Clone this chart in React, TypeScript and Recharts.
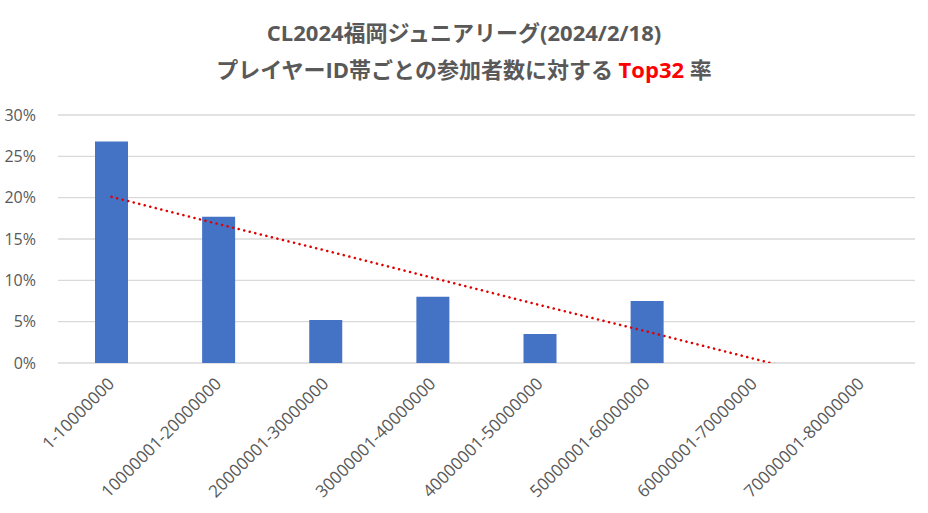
import React from "react";
import { ComposedChart, Bar, Line, XAxis, YAxis, CartesianGrid } from "recharts";

const categories = [
  "1-10000000",
  "10000001-20000000",
  "20000001-30000000",
  "30000001-40000000",
  "40000001-50000000",
  "50000001-60000000",
  "60000001-70000000",
  "70000001-80000000",
];
const top32Rate = [0.268, 0.177, 0.052, 0.08, 0.035, 0.075, 0, 0];
const trendRate = [0.201, 0.168, 0.136, 0.103, 0.07, 0.038, 0.005, -0.028];
const yTicks = [0, 0.05, 0.1, 0.15, 0.2, 0.25, 0.3];

const data = categories.map((c, i) => ({ name: c, rate: top32Rate[i], trend: trendRate[i] }));

const FONT = "'Open Sans', 'Noto Sans CJK JP', sans-serif";
const GREY = "#595959";

const XTick = (props: any) => {
  const { x, y, payload } = props;
  return (
    <g transform={`translate(${x - 4},${y + 6})`}>
      <text
        textAnchor="end"
        transform="rotate(-45)"
        fontSize={17}
        fill={GREY}
        fontFamily={FONT}
        dy={11}
      >
        {payload.value}
      </text>
    </g>
  );
};

export default function App() {
  return (
    <div style={{ position: "absolute", left: 0, top: 0, width: 928, height: 513, background: "#fff", fontFamily: FONT }}>
      <div
        style={{
          position: "absolute",
          left: 0,
          top: 14,
          width: 928,
          textAlign: "center",
          fontSize: 22,
          fontWeight: 700,
          color: GREY,
          fontFamily: FONT,
          lineHeight: "37px",
        }}
      >
        <div>CL2024福岡ジュニアリーグ(2024/2/18)</div>
        <div>
          プレイヤーID帯ごとの参加者数に対する <span style={{ color: "#FF0000" }}>Top32</span> 率
        </div>
      </div>
      <ComposedChart
        width={928}
        height={513}
        data={data}
        margin={{ top: 115, right: 13, bottom: 10, left: 8 }}
        barCategoryGap="34%"
      >
        <CartesianGrid vertical={false} stroke="#D9D9D9" strokeWidth={1.3} />
        <XAxis
          dataKey="name"
          axisLine={false}
          tickLine={false}
          interval={0}
          height={140}
          tick={<XTick />}
        />
        <YAxis
          width={50}
          domain={[0, 0.3]}
          ticks={yTicks}
          allowDataOverflow
          axisLine={false}
          tickLine={false}
          tickFormatter={(v: number) => `${Math.round(v * 100)}%`}
          tick={{ fontSize: 16, fill: GREY, fontFamily: FONT }}
          tickMargin={16}
        />
        <Bar dataKey="rate" fill="#4472C4" barSize={33} isAnimationActive={false} />
        <Line
          dataKey="trend"
          type="linear"
          stroke="#E00000"
          strokeWidth={2.5}
          strokeDasharray="0.1 5.6"
          strokeLinecap="round"
          dot={false}
          activeDot={false}
          isAnimationActive={false}
        />
      </ComposedChart>
    </div>
  );
}
